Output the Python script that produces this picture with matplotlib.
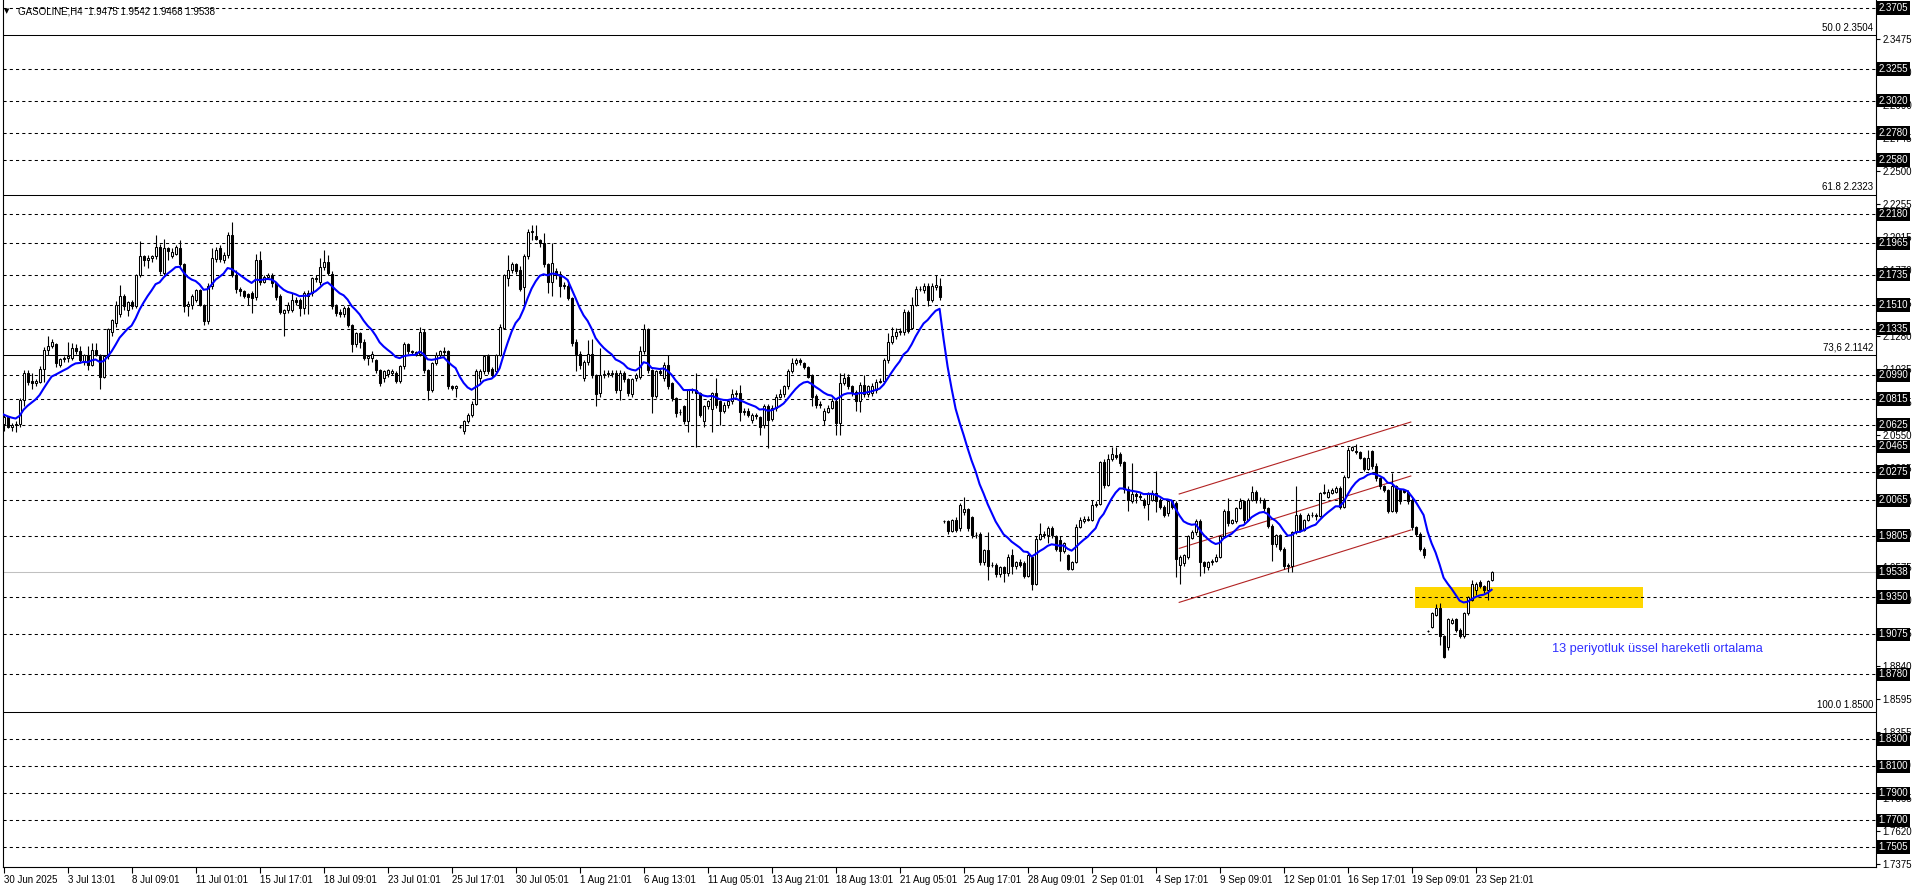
import numpy as np
import matplotlib
matplotlib.use("Agg")
import matplotlib.pyplot as plt
import matplotlib.transforms as mtransforms
from matplotlib.patches import Rectangle

plt.rcParams['font.family'] = ['Liberation Sans', 'DejaVu Sans']

# GASOLINE H4 candles (bar 0 = 30 Jun 2025)
opens = [
    2.063, 2.068, 2.061, 2.062, 2.063, 2.081, 2.101, 2.095, 2.093, 2.094,
    2.104, 2.118, 2.121, 2.122, 2.107, 2.111, 2.112, 2.112, 2.119, 2.117,
    2.109, 2.114, 2.107, 2.118, 2.113, 2.098, 2.113, 2.131, 2.138, 2.144,
    2.158, 2.147, 2.153, 2.150, 2.173, 2.187, 2.184, 2.186, 2.187, 2.194,
    2.175, 2.193, 2.187, 2.189, 2.193, 2.181, 2.150, 2.151, 2.155, 2.162,
    2.151, 2.139, 2.165, 2.185, 2.193, 2.184, 2.188, 2.203, 2.173, 2.163,
    2.161, 2.159, 2.160, 2.157, 2.184, 2.168, 2.172, 2.173, 2.167, 2.158,
    2.145, 2.147, 2.147, 2.155, 2.155, 2.149, 2.160, 2.160, 2.171, 2.168,
    2.179, 2.183, 2.174, 2.150, 2.146, 2.144, 2.149, 2.136, 2.122, 2.130,
    2.124, 2.112, 2.112, 2.110, 2.103, 2.097, 2.100, 2.101, 2.101, 2.095,
    2.106, 2.122, 2.117, 2.116, 2.115, 2.131, 2.103, 2.088, 2.108, 2.114,
    2.117, 2.117, 2.091, 2.090, 2.061, 2.058, 2.065, 2.070, 2.078, 2.097,
    2.102, 2.113, 2.104, 2.102, 2.114, 2.134, 2.171, 2.177, 2.181, 2.177,
    2.164, 2.187, 2.205, 2.202, 2.199, 2.197, 2.181, 2.168, 2.176, 2.174,
    2.165, 2.165, 2.156, 2.124, 2.115, 2.097, 2.109, 2.115, 2.099, 2.086,
    2.099, 2.100, 2.100, 2.101, 2.088, 2.101, 2.096, 2.085, 2.097, 2.098,
    2.117, 2.133, 2.103, 2.084, 2.102, 2.097, 2.107, 2.093, 2.082, 2.072,
    2.076, 2.065, 2.088, 2.088, 2.086, 2.065, 2.076, 2.074, 2.086, 2.080,
    2.073, 2.077, 2.080, 2.085, 2.086, 2.072, 2.073, 2.066, 2.070, 2.068,
    2.062, 2.076, 2.067, 2.075, 2.083, 2.085, 2.091, 2.102, 2.108, 2.110,
    2.108, 2.105, 2.099, 2.084, 2.078, 2.066, 2.072, 2.075, 2.080, 2.064,
    2.093, 2.098, 2.091, 2.087, 2.080, 2.092, 2.085, 2.086, 2.088, 2.094,
    2.095, 2.110, 2.124, 2.128, 2.131, 2.131, 2.146, 2.134, 2.151, 2.163,
    2.162, 2.165, 2.155, 2.164, 2.165, 1.991, 1.991, 1.984, 1.992, 1.986,
    1.998, 2.000, 1.994, 1.981, 1.982, 1.961, 1.970, 1.959, 1.959, 1.952,
    1.957, 1.953, 1.966, 1.958, 1.961, 1.960, 1.951, 1.965, 1.945, 1.978,
    1.982, 1.981, 1.986, 1.980, 1.977, 1.969, 1.966, 1.956, 1.961, 1.987,
    1.991, 1.992, 1.992, 2.003, 2.004, 2.035, 2.018, 2.037, 2.040, 2.041,
    2.035, 2.015, 2.006, 2.011, 2.010, 2.007, 2.004, 2.007, 2.012, 2.007,
    2.002, 1.997, 2.006, 2.005, 1.959, 1.960, 1.965, 1.979, 1.983, 1.991,
    1.961, 1.957, 1.961, 1.962, 1.965, 1.980, 1.999, 1.990, 1.991, 2.001,
    2.006, 1.992, 2.007, 2.013, 2.007, 2.007, 2.001, 1.988, 1.974, 1.981,
    1.971, 1.959, 1.958, 1.983, 1.996, 1.985, 1.992, 1.996, 1.996, 1.995,
    2.012, 2.009, 2.012, 2.013, 2.016, 2.002, 2.024, 2.044, 2.043, 2.042,
    2.038, 2.030, 2.043, 2.032, 2.023, 2.017, 2.014, 1.999, 2.017, 2.014,
    2.014, 2.013, 2.007, 1.987, 1.982, 1.971, 1.910, 1.913, 1.922, 1.927,
    1.906, 1.898, 1.916, 1.919, 1.911, 1.906, 1.923, 1.933, 1.940, 1.946,
    1.943, 1.940, 1.9475,
]
highs = [
    2.070, 2.069, 2.064, 2.065, 2.082, 2.103, 2.103, 2.101, 2.096, 2.106,
    2.120, 2.128, 2.126, 2.123, 2.112, 2.113, 2.124, 2.123, 2.122, 2.121,
    2.115, 2.121, 2.123, 2.123, 2.115, 2.114, 2.134, 2.141, 2.154, 2.166,
    2.159, 2.154, 2.155, 2.174, 2.198, 2.188, 2.188, 2.188, 2.203, 2.196,
    2.200, 2.194, 2.193, 2.195, 2.199, 2.182, 2.154, 2.159, 2.163, 2.163,
    2.152, 2.167, 2.193, 2.194, 2.195, 2.190, 2.205, 2.212, 2.177, 2.164,
    2.162, 2.160, 2.161, 2.189, 2.191, 2.173, 2.175, 2.175, 2.168, 2.159,
    2.148, 2.153, 2.160, 2.157, 2.156, 2.161, 2.162, 2.172, 2.173, 2.186,
    2.192, 2.188, 2.176, 2.152, 2.148, 2.150, 2.150, 2.137, 2.131, 2.131,
    2.126, 2.114, 2.117, 2.111, 2.104, 2.103, 2.104, 2.104, 2.102, 2.107,
    2.124, 2.123, 2.118, 2.117, 2.135, 2.133, 2.104, 2.109, 2.116, 2.118,
    2.120, 2.118, 2.092, 2.092, 2.062, 2.066, 2.071, 2.080, 2.104, 2.104,
    2.114, 2.115, 2.105, 2.115, 2.137, 2.174, 2.188, 2.183, 2.182, 2.180,
    2.189, 2.207, 2.210, 2.210, 2.200, 2.204, 2.182, 2.197, 2.178, 2.176,
    2.168, 2.167, 2.157, 2.126, 2.117, 2.110, 2.125, 2.126, 2.100, 2.119,
    2.103, 2.103, 2.103, 2.103, 2.103, 2.102, 2.097, 2.097, 2.101, 2.121,
    2.137, 2.134, 2.104, 2.103, 2.104, 2.109, 2.114, 2.094, 2.083, 2.074,
    2.077, 2.089, 2.090, 2.101, 2.087, 2.077, 2.081, 2.087, 2.097, 2.081,
    2.079, 2.081, 2.089, 2.088, 2.092, 2.075, 2.075, 2.071, 2.071, 2.069,
    2.078, 2.078, 2.077, 2.085, 2.089, 2.092, 2.104, 2.112, 2.112, 2.112,
    2.109, 2.106, 2.100, 2.085, 2.080, 2.075, 2.077, 2.082, 2.082, 2.101,
    2.101, 2.100, 2.092, 2.088, 2.094, 2.099, 2.092, 2.093, 2.096, 2.097,
    2.112, 2.130, 2.135, 2.134, 2.134, 2.148, 2.147, 2.157, 2.165, 2.165,
    2.167, 2.167, 2.167, 2.173, 2.171, 1.992, 1.992, 1.993, 1.994, 2.005,
    2.009, 2.001, 1.995, 1.983, 1.983, 1.971, 1.983, 1.961, 1.960, 1.958,
    1.958, 1.967, 1.971, 1.962, 1.963, 1.962, 1.968, 1.966, 1.980, 1.990,
    1.984, 1.988, 1.988, 1.981, 1.980, 1.976, 1.967, 1.962, 1.989, 1.994,
    1.995, 1.995, 2.007, 2.006, 2.036, 2.037, 2.041, 2.046, 2.046, 2.042,
    2.036, 2.017, 2.034, 2.013, 2.012, 2.008, 2.013, 2.014, 2.028, 2.008,
    2.003, 2.007, 2.007, 2.006, 1.966, 1.967, 1.981, 1.985, 1.993, 1.993,
    1.962, 1.962, 1.963, 1.967, 1.981, 2.000, 2.008, 1.993, 2.002, 2.008,
    2.007, 2.008, 2.017, 2.014, 2.009, 2.008, 2.002, 1.989, 1.982, 1.982,
    1.972, 1.960, 1.984, 2.017, 1.997, 1.993, 1.997, 1.998, 1.997, 2.013,
    2.019, 2.015, 2.016, 2.017, 2.017, 2.025, 2.046, 2.047, 2.048, 2.043,
    2.039, 2.044, 2.044, 2.034, 2.024, 2.018, 2.015, 2.027, 2.018, 2.015,
    2.015, 2.014, 2.008, 1.988, 1.983, 1.972, 1.911, 1.924, 1.930, 1.931,
    1.907, 1.920, 1.920, 1.920, 1.912, 1.924, 1.936, 1.948, 1.946, 1.948,
    1.944, 1.948, 1.9542,
]
lows = [
    2.058, 2.060, 2.058, 2.057, 2.061, 2.076, 2.092, 2.089, 2.091, 2.093,
    2.094, 2.114, 2.119, 2.105, 2.105, 2.109, 2.109, 2.110, 2.115, 2.108,
    2.107, 2.103, 2.106, 2.113, 2.089, 2.097, 2.111, 2.128, 2.135, 2.142,
    2.147, 2.143, 2.148, 2.149, 2.172, 2.180, 2.178, 2.183, 2.185, 2.174,
    2.173, 2.184, 2.186, 2.188, 2.179, 2.146, 2.143, 2.148, 2.153, 2.150,
    2.136, 2.137, 2.163, 2.183, 2.183, 2.182, 2.186, 2.172, 2.160, 2.158,
    2.156, 2.151, 2.145, 2.155, 2.166, 2.167, 2.170, 2.164, 2.155, 2.144,
    2.128, 2.145, 2.146, 2.151, 2.143, 2.144, 2.144, 2.158, 2.168, 2.166,
    2.177, 2.173, 2.148, 2.143, 2.142, 2.142, 2.135, 2.116, 2.120, 2.119,
    2.110, 2.107, 2.109, 2.101, 2.091, 2.094, 2.098, 2.099, 2.093, 2.093,
    2.104, 2.115, 2.114, 2.113, 2.113, 2.101, 2.081, 2.087, 2.107, 2.112,
    2.113, 2.089, 2.088, 2.083, 2.060, 2.056, 2.064, 2.068, 2.077, 2.094,
    2.100, 2.100, 2.098, 2.101, 2.113, 2.133, 2.165, 2.175, 2.174, 2.161,
    2.150, 2.185, 2.199, 2.199, 2.194, 2.179, 2.160, 2.158, 2.170, 2.157,
    2.163, 2.155, 2.121, 2.102, 2.104, 2.095, 2.107, 2.097, 2.076, 2.083,
    2.097, 2.098, 2.098, 2.086, 2.081, 2.094, 2.084, 2.083, 2.095, 2.096,
    2.115, 2.101, 2.071, 2.082, 2.099, 2.095, 2.089, 2.080, 2.068, 2.070,
    2.063, 2.057, 2.086, 2.046, 2.068, 2.061, 2.074, 2.057, 2.075, 2.062,
    2.071, 2.075, 2.078, 2.083, 2.065, 2.070, 2.068, 2.064, 2.067, 2.055,
    2.060, 2.045, 2.065, 2.073, 2.082, 2.083, 2.089, 2.101, 2.107, 2.107,
    2.104, 2.097, 2.076, 2.075, 2.075, 2.062, 2.071, 2.074, 2.055, 2.055,
    2.092, 2.089, 2.084, 2.073, 2.072, 2.083, 2.083, 2.084, 2.086, 2.093,
    2.093, 2.108, 2.122, 2.126, 2.129, 2.129, 2.130, 2.133, 2.150, 2.161,
    2.160, 2.150, 2.153, 2.162, 2.155, 1.990, 1.982, 1.983, 1.983, 1.984,
    1.996, 1.984, 1.979, 1.979, 1.959, 1.959, 1.948, 1.957, 1.950, 1.950,
    1.946, 1.951, 1.952, 1.956, 1.957, 1.949, 1.950, 1.940, 1.944, 1.977,
    1.979, 1.975, 1.979, 1.969, 1.962, 1.968, 1.955, 1.955, 1.960, 1.986,
    1.990, 1.991, 1.991, 2.002, 2.003, 2.016, 2.017, 2.036, 2.037, 2.032,
    2.012, 1.999, 2.005, 2.005, 2.007, 2.001, 1.992, 2.006, 1.998, 2.000,
    1.994, 1.995, 2.000, 1.950, 1.945, 1.958, 1.963, 1.978, 1.981, 1.951,
    1.953, 1.955, 1.959, 1.961, 1.964, 1.979, 1.988, 1.989, 1.990, 2.000,
    1.990, 1.991, 2.006, 2.005, 2.005, 1.999, 1.986, 1.962, 1.972, 1.969,
    1.956, 1.954, 1.954, 1.982, 1.983, 1.984, 1.991, 1.994, 1.992, 1.994,
    2.011, 2.008, 2.011, 2.012, 2.000, 2.001, 2.023, 2.043, 2.041, 2.037,
    2.028, 2.029, 2.030, 2.021, 2.015, 2.013, 1.997, 1.998, 1.997, 2.004,
    2.012, 2.004, 1.985, 1.980, 1.969, 1.964, 1.909, 1.912, 1.921, 1.900,
    1.890, 1.896, 1.915, 1.909, 1.905, 1.905, 1.922, 1.932, 1.937, 1.942,
    1.938, 1.933, 1.9468,
]
closes = [
    2.068, 2.061, 2.062, 2.063, 2.081, 2.101, 2.094, 2.093, 2.095, 2.104,
    2.118, 2.121, 2.124, 2.108, 2.111, 2.112, 2.113, 2.119, 2.117, 2.110,
    2.114, 2.107, 2.118, 2.115, 2.098, 2.113, 2.133, 2.140, 2.151, 2.158,
    2.150, 2.153, 2.150, 2.173, 2.187, 2.184, 2.186, 2.187, 2.194, 2.176,
    2.193, 2.191, 2.190, 2.194, 2.181, 2.150, 2.152, 2.158, 2.162, 2.151,
    2.139, 2.165, 2.186, 2.192, 2.185, 2.188, 2.203, 2.173, 2.163, 2.161,
    2.158, 2.157, 2.156, 2.184, 2.168, 2.172, 2.173, 2.167, 2.157, 2.146,
    2.147, 2.151, 2.155, 2.153, 2.149, 2.160, 2.158, 2.171, 2.170, 2.179,
    2.183, 2.175, 2.150, 2.145, 2.144, 2.149, 2.136, 2.122, 2.130, 2.124,
    2.112, 2.113, 2.115, 2.103, 2.093, 2.102, 2.103, 2.102, 2.095, 2.106,
    2.122, 2.117, 2.116, 2.115, 2.131, 2.103, 2.088, 2.108, 2.114, 2.117,
    2.116, 2.091, 2.090, 2.091, 2.061, 2.065, 2.070, 2.078, 2.102, 2.102,
    2.113, 2.102, 2.100, 2.114, 2.135, 2.173, 2.177, 2.181, 2.176, 2.163,
    2.187, 2.205, 2.206, 2.200, 2.197, 2.181, 2.168, 2.182, 2.173, 2.165,
    2.166, 2.156, 2.123, 2.115, 2.107, 2.109, 2.115, 2.099, 2.085, 2.099,
    2.100, 2.101, 2.101, 2.088, 2.101, 2.096, 2.086, 2.096, 2.099, 2.117,
    2.133, 2.103, 2.084, 2.102, 2.101, 2.107, 2.091, 2.082, 2.071, 2.072,
    2.065, 2.088, 2.089, 2.086, 2.070, 2.076, 2.080, 2.086, 2.077, 2.073,
    2.077, 2.080, 2.085, 2.086, 2.072, 2.073, 2.070, 2.070, 2.069, 2.061,
    2.076, 2.066, 2.075, 2.083, 2.085, 2.091, 2.102, 2.108, 2.110, 2.109,
    2.105, 2.098, 2.083, 2.077, 2.077, 2.073, 2.075, 2.080, 2.064, 2.093,
    2.097, 2.091, 2.086, 2.080, 2.092, 2.085, 2.091, 2.091, 2.094, 2.095,
    2.110, 2.124, 2.128, 2.131, 2.132, 2.146, 2.132, 2.151, 2.163, 2.163,
    2.165, 2.155, 2.165, 2.166, 2.157, 1.991, 1.984, 1.992, 1.985, 2.003,
    2.000, 1.986, 1.981, 1.981, 1.961, 1.970, 1.958, 1.959, 1.952, 1.957,
    1.953, 1.965, 1.958, 1.961, 1.959, 1.951, 1.966, 1.945, 1.978, 1.982,
    1.981, 1.986, 1.981, 1.971, 1.969, 1.975, 1.956, 1.961, 1.987, 1.992,
    1.993, 1.993, 2.003, 2.004, 2.035, 2.018, 2.037, 2.041, 2.039, 2.034,
    2.015, 2.007, 2.011, 2.010, 2.009, 2.003, 2.012, 2.012, 2.006, 2.002,
    1.996, 2.006, 2.002, 1.963, 1.965, 1.966, 1.980, 1.983, 1.991, 1.961,
    1.958, 1.961, 1.962, 1.965, 1.980, 1.999, 1.990, 1.992, 2.001, 2.006,
    1.992, 2.007, 2.013, 2.007, 2.007, 2.001, 1.988, 1.974, 1.981, 1.971,
    1.958, 1.958, 1.983, 1.996, 1.985, 1.992, 1.996, 1.996, 1.995, 2.012,
    2.013, 2.013, 2.014, 2.016, 2.002, 2.024, 2.044, 2.046, 2.042, 2.038,
    2.030, 2.038, 2.032, 2.023, 2.017, 2.014, 1.999, 2.017, 1.999, 2.006,
    2.013, 2.006, 1.987, 1.982, 1.971, 1.966, 1.910, 1.923, 1.927, 1.906,
    1.891, 1.919, 1.918, 1.911, 1.906, 1.923, 1.935, 1.945, 1.945, 1.943,
    1.940, 1.947, 1.9538,
]

# 13 period EMA, its value at the first bar
ema_period = 13
ema_start = 2.070

# horizontal lines with price boxes
hlines = [2.3705, 2.3255, 2.3020, 2.2780, 2.2580, 2.2180, 2.1965, 2.1735,
          2.1510, 2.1335, 2.0990, 2.0815, 2.0625, 2.0465, 2.0275, 2.0065,
          1.9805, 1.9350, 1.9075, 1.8780, 1.8300, 1.8100, 1.7900, 1.7700,
          1.7505]
fibo_names = ['50.0', '61.8', '73,6', '100.0']
fibo_prices = [2.3504, 2.2323, 2.1142, 1.8500]
bid = 1.9538

price_ticks = [1.7375, 1.7620, 1.7865, 1.8110, 1.8355, 1.8595, 1.8840, 1.9085,
               1.9330, 1.9575, 1.9820, 2.0060, 2.0305, 2.0550, 2.0795, 2.1035,
               2.1280, 2.1525, 2.1770, 2.2015, 2.2255, 2.2500, 2.2745, 2.2990,
               2.3230, 2.3475]
time_labels = ['30 Jun 2025', '3 Jul 13:01', '8 Jul 09:01', '11 Jul 01:01',
               '15 Jul 17:01', '18 Jul 09:01', '23 Jul 01:01', '25 Jul 17:01',
               '30 Jul 05:01', '1 Aug 21:01', '6 Aug 13:01', '11 Aug 05:01',
               '13 Aug 21:01', '18 Aug 13:01', '21 Aug 05:01', '25 Aug 17:01',
               '28 Aug 09:01', '2 Sep 01:01', '4 Sep 17:01', '9 Sep 09:01',
               '12 Sep 01:01', '16 Sep 17:01', '19 Sep 09:01', '23 Sep 21:01']
bars_per_label = 16

# rising channel (bar index, price)
chan_bars = [293.9, 351.8]
chan_upper = [2.0113, 2.0645]
chan_mid = [1.9711, 2.0246]
chan_lower = [1.9312, 1.9847]

# yellow zone
zone_bars = [352.9, 409.8]
zone_prices = [1.9270, 1.9426]

note = '13 periyotluk üssel hareketli ortalama'
note_bar, note_price = 387.1, 1.8967

title = 'GASOLINE,H4  1.9475 1.9542 1.9468 1.9538'

# ---------------------------------------------------------------
W, H = 1916, 888
fig = plt.figure(figsize=(W / 100, H / 100), dpi=100)
ax = fig.add_axes([3 / W, 21 / H, 1873 / W, 867 / H])

o = np.array(opens); hi = np.array(highs); lo = np.array(lows); c = np.array(closes)
x = np.arange(len(c))

ppu = 1353.0
ax.set_ylim(2.3705 - 859 / ppu, 2.3705 + 8 / ppu)
ax.set_xlim(-0.15, 468.1)

for p in hlines:
    ax.axhline(p, color='black', lw=0.75, ls=(0, (3, 3)), zorder=1)
ax.axhline(bid, color='#c0c0c0', lw=0.75, zorder=1)

tr = mtransforms.blended_transform_factory(ax.transAxes, ax.transData)
for name, p in zip(fibo_names, fibo_prices):
    ax.axhline(p, color='black', lw=0.75, zorder=1)
    ax.text(0.9985, p + 2.5 / ppu, f'{name} {p:.4f}', transform=tr, ha='right',
            va='bottom', fontsize=7, color='black')

ax.add_patch(Rectangle((zone_bars[0], zone_prices[0]), zone_bars[1] - zone_bars[0],
                       zone_prices[1] - zone_prices[0], facecolor='#ffd700',
                       edgecolor='none', zorder=0.5))

for yy in (chan_upper, chan_mid, chan_lower):
    ax.plot(chan_bars, yy, color='#b22222', lw=0.8, zorder=2)

# candles
up = c >= o
ax.vlines(x, lo, hi, color='black', lw=0.8, zorder=3)
bot = np.minimum(o, c)
hgt = np.abs(c - o)
ax.bar(x[up], hgt[up], bottom=bot[up], width=0.5, facecolor='white',
       edgecolor='black', linewidth=0.75, zorder=4)
ax.bar(x[~up], hgt[~up], bottom=bot[~up], width=0.5, facecolor='black',
       edgecolor='black', linewidth=0.75, zorder=4)

# EMA
alpha = 2.0 / (ema_period + 1)
ema = [ema_start]
for v in closes[1:]:
    ema.append(ema[-1] + alpha * (v - ema[-1]))
ax.plot(x, ema, color='#0000ff', lw=1.5, zorder=5)

ax.text(note_bar, note_price, note, color='#3030ff', fontsize=9.2,
        ha='left', va='center', zorder=6)

# axes look
ax.spines['top'].set_visible(False)
for s in ['left', 'right', 'bottom']:
    ax.spines[s].set_linewidth(0.8)
ax.yaxis.tick_right()
ax.set_yticks(price_ticks, labels=[f'{t:.4f}' for t in price_ticks])
ax.tick_params(axis='y', length=3, width=0.8, pad=1.5, labelsize=7)
ax.set_xticks(np.arange(len(time_labels)) * bars_per_label, labels=time_labels)
ax.tick_params(axis='x', length=4, width=0.8, pad=1.5, labelsize=7)
for lbl in ax.get_xticklabels():
    lbl.set_ha('left')

# price boxes on the axis
for p in hlines + [bid]:
    ax.text(1.0 + 2.5 / 1873, p, f'{p:.4f}', transform=tr, ha='left', va='center',
            fontsize=7, color='white', clip_on=False, zorder=10,
            bbox=dict(boxstyle='square,pad=0.18', fc='black', ec='none'))

fig.text(4 / W, 1 - 11 / H, '▼', fontsize=5, va='center', ha='left',
         family='DejaVu Sans')
fig.text(18 / W, 1 - 11 / H, title, fontsize=7, va='center', ha='left')

fig.savefig('out.png', dpi=100)
